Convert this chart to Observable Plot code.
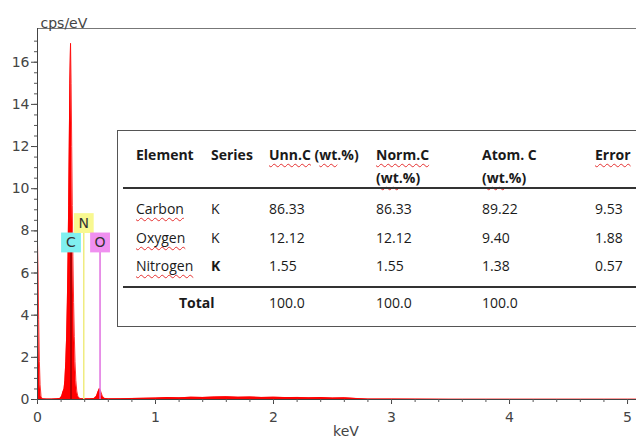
<!DOCTYPE html>
<html><head><meta charset="utf-8">
<script src="https://cdn.jsdelivr.net/npm/d3@7"></script>
<script src="https://cdn.jsdelivr.net/npm/@observablehq/plot@0.6"></script>
<style>
body{margin:0;background:#fff;}
#wrap{position:relative;width:636px;height:442px;overflow:hidden;}
#wrap svg{position:absolute;left:0;top:0;}
#tbl{position:absolute;left:117px;top:130px;width:560px;height:197px;border:1px solid #555;box-sizing:border-box;background:#fff;font-family:"Open Sans",sans-serif;}
.cell{position:absolute;font-size:14px;line-height:20px;color:#1a1a1a;white-space:nowrap;}
.b{font-weight:bold;}
.sq{text-decoration:underline wavy #e53030;text-decoration-thickness:1px;text-underline-offset:3px;text-decoration-skip-ink:none;}
.sep{position:absolute;left:5px;right:0;height:2px;background:#333;}
</style></head>
<body>
<div id="wrap"></div>
<script>
// ---- spectrum (keV, cps/eV) ----
const keV = [0.000,0.005,0.010,0.016,0.022,0.030,0.040,0.080,0.120,0.160,0.190,0.205,0.215,0.225,0.232,0.240,0.247,0.253,0.259,0.264,0.269,0.274,0.280,0.285,0.290,0.295,0.300,0.306,0.312,0.318,0.325,0.333,0.342,0.360,0.400,0.440,0.480,0.500,0.512,0.525,0.538,0.550,0.570,0.600,0.700,0.800,0.900,1.000,1.100,1.200,1.300,1.400,1.500,1.600,1.700,1.800,1.900,2.000,2.100,2.200,2.300,2.400,2.500,2.600,2.700,2.800,3.000,3.500,4.000,4.500,5.000,5.076];
const cps = [7.4,6.0,3.8,1.8,0.7,0.15,0.03,0.02,0.02,0.03,0.05,0.15,0.35,0.5,0.9,1.8,3.0,4.6,6.8,9.2,12.0,15.0,16.9,15.0,12.0,9.2,6.8,4.6,3.0,1.8,0.9,0.4,0.15,0.04,0.03,0.03,0.05,0.15,0.35,0.52,0.35,0.15,0.05,0.03,0.04,0.05,0.06,0.07,0.09,0.08,0.11,0.10,0.12,0.13,0.11,0.12,0.10,0.11,0.09,0.10,0.08,0.09,0.07,0.08,0.05,0.02,0.02,0.01,0.01,0.01,0.01,0.01];

// ---- element markers ----
const elements = ["C","N","O"];
const elementKeV = [0.284,0.392,0.530];
const elementLevel = [7.45,8.37,7.45];

// ---- axis ticks ----
const yTicks = [0,2,4,6,8,10,12,14,16];
const xTicks = [0,1,2,3,4,5];

// ---- table ----
const headers = [["Element"],["Series"],["Unn.C (wt.%)"],["Norm.C","(wt.%)"],["Atom. C","(wt.%)"],["Error"]];
const rowNames = ["Carbon","Oxygen","Nitrogen"];
const series = ["K","K","K"];
const unnC = [86.33,12.12,1.55];
const normC = [86.33,12.12,1.55];
const atomC = [89.22,9.40,1.38];
const errors = [9.53,1.88,0.57];
const totalLabel = "Total";
const totals = [100.0,100.0,100.0];
const flagged = ["Unn.C","wt","Norm.C","Error","Carbon","Oxygen","Nitrogen"];

// ---- styles ----
const boxFill = {C:"#80f0f0",N:"#f8f890",O:"#f090f0"};
const lineStroke = {C:"#990000",N:"#f0ec80",O:"#e070e0"};

const spectrum = keV.map((x,i)=>({x,y:cps[i]}));
const marks = elements.map((e,i)=>({e,x:elementKeV[i],y:elementLevel[i]}));
const axisFont = "'DejaVu Sans',sans-serif";

const chart = Plot.plot({
  width:636,height:442,marginLeft:37,marginRight:0,marginTop:28,marginBottom:43,
  style:{fontFamily:axisFont,background:"transparent",overflow:"visible"},
  x:{domain:[0,5.076]},
  y:{domain:[0,17.6]},
  color:{type:"identity"},
  marks:[
    Plot.areaY(spectrum,{x:"x",y:"y",fill:"#ff0000",curve:"linear"}),
    Plot.lineY(spectrum,{x:"x",y:"y",stroke:"#ff0000",strokeWidth:0.8}),
    Plot.ruleX(marks,{x:"x",y1:0,y2:"y",stroke:d=>lineStroke[d.e],strokeWidth:1.5}),
    Plot.dot(marks,{x:"x",y:"y",symbol:"square",r:11.2,fill:d=>boxFill[d.e],stroke:null}),
    Plot.text(marks,{x:"x",y:"y",text:"e",fontSize:14,fill:"#333",fontFamily:axisFont}),
    Plot.ruleY([0],{stroke:"#444"}),
    Plot.ruleY([17.6],{stroke:"#777"}),
    Plot.ruleX([0],{stroke:"#444"}),
    Plot.axisY(yTicks,{tickSize:6,tickPadding:2,fontSize:14,color:"#444",label:null,tickFormat:d3.format("d")}),
    Plot.axisY(d3.range(0,17.5,0.5),{tickSize:3,text:null,color:"#555",label:null}),
    Plot.axisX(xTicks,{tickSize:5,tickPadding:8,fontSize:14,color:"#444",label:null,tickFormat:d3.format("d")}),
    Plot.axisX(d3.range(0,5.05,0.2),{tickSize:3,text:null,color:"#555",label:null}),
    Plot.text(["cps/eV"],{frameAnchor:"top-left",dx:3,dy:-10,textAnchor:"start",fontSize:14,fill:"#444"}),
    Plot.text(["keV"],{frameAnchor:"bottom",dx:9,dy:36,fontSize:14,fill:"#444"})
  ]
});
const wrap = document.getElementById("wrap");
wrap.appendChild(chart);

// ---- table overlay ----
const tbl = document.createElement("div");
tbl.id = "tbl";
wrap.appendChild(tbl);
const ox = 117, oy = 130;
const colX = [135,210,268,375,481,594];
function esc(s){return s.replace(/[.*+?^${}()|[\]\\]/g,"\\$&");}
const re = new RegExp("(" + flagged.map(esc).join("|") + ")","g");
function mark(s){return s.replace(re,'<span class="sq">$1</span>');}
function cell(text,x,cy,cls){
  const d = document.createElement("div");
  d.className = "cell " + (cls||"");
  d.style.left = (x-ox)+"px";
  d.style.top = (cy-oy-10)+"px";
  d.innerHTML = mark(text);
  tbl.appendChild(d);
}
headers.forEach((h,j)=>h.forEach((line,k)=>cell(line,colX[j],[154,177][k],"b")));
const rowY = [208,237,265];
rowNames.forEach((n,i)=>{
  cell(n,colX[0],rowY[i]);
  cell(series[i],colX[1],rowY[i],i===2?"b":"");
  cell(unnC[i].toFixed(2),colX[2],rowY[i]);
  cell(normC[i].toFixed(2),colX[3],rowY[i]);
  cell(atomC[i].toFixed(2),colX[4],rowY[i]);
  cell(errors[i].toFixed(2),colX[5],rowY[i]);
});
cell(totalLabel,178,302,"b");
totals.forEach((t,j)=>cell(t.toFixed(1),colX[2+j],302));
[187,286].forEach(y=>{
  const s = document.createElement("div");
  s.className = "sep";
  s.style.top = (y-oy-1)+"px";
  tbl.appendChild(s);
});
</script>
</body></html>
